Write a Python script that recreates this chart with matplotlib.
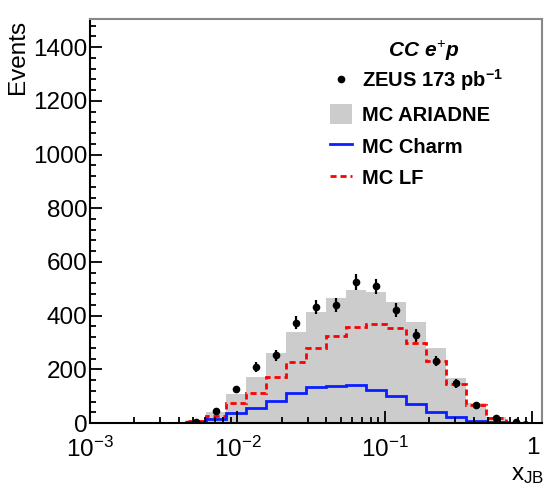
import numpy as np
import matplotlib
matplotlib.use("Agg")
import matplotlib.pyplot as plt
from matplotlib.lines import Line2D
from matplotlib.patches import Patch
from matplotlib.ticker import MultipleLocator, FixedLocator, FixedFormatter, LogLocator, NullFormatter

plt.rcParams['font.family'] = ['Liberation Sans', 'DejaVu Sans']
plt.rcParams['mathtext.fontset'] = 'custom'
plt.rcParams['mathtext.rm'] = 'Liberation Sans'
plt.rcParams['mathtext.it'] = 'Liberation Sans:bold:italic'
plt.rcParams['mathtext.bf'] = 'Liberation Sans:bold'

# binning (log10 x_JB), 17 equal bins
log_lo = -2.349
log_width = 0.1356
n_bins = 17

mc_ariadne = [10, 42, 107, 170, 260, 340, 415, 464, 495, 489, 452, 377, 278, 169, 73, 23, 5]
mc_lf = [8, 27, 73, 113, 172, 226, 280, 324, 357, 368, 353, 299, 232, 145, 67, 17, 5]
mc_charm = [3, 14, 36, 55, 83, 113, 133, 139, 140, 123, 102, 70, 42, 23, 9, 3, 1]
zeus = [5, 46, 125, 207, 253, 374, 433, 439, 525, 509, 421, 327, 231, 148, 68, 17, 4]

x_min = 1e-3
x_max = 1.16

edges = 10 ** (log_lo + log_width * np.arange(n_bins + 1))
centers = 10 ** (log_lo + log_width * (np.arange(n_bins) + 0.5))
full_edges = np.concatenate([[x_min], edges, [x_max]])

def pad(v):
    return np.concatenate([[0], v, [0]])

fig = plt.figure(figsize=(5.45, 4.92), dpi=100)
ax = fig.add_axes([0.1651, 0.1402, 0.8294, 0.8211])

ax.stairs(mc_ariadne, edges, fill=True, color='#cccccc', lw=0)
ax.stairs(pad(mc_lf), full_edges, baseline=None, color='#ff0000', lw=2,
          linestyle=(0, (2.2, 1.4)))
ax.stairs(pad(mc_charm), full_edges, baseline=None, color='#0a1eff', lw=2)
ax.errorbar(centers, zeus, yerr=1.3 * np.sqrt(zeus), fmt='o', color='black', ms=4.5,
            elinewidth=1.6, capsize=0, zorder=5)

ax.set_xscale('log')
ax.set_xlim(x_min, x_max)
ax.set_ylim(0, 1505)

ax.xaxis.set_major_locator(FixedLocator([1e-3, 1e-2, 1e-1, 1]))
ax.xaxis.set_major_formatter(FixedFormatter([r'$10^{-3}$', r'$10^{-2}$', r'$10^{-1}$', '1']))
ax.xaxis.set_minor_locator(LogLocator(base=10, subs=np.arange(2, 10), numticks=20))
ax.xaxis.set_minor_formatter(NullFormatter())
ax.yaxis.set_major_locator(MultipleLocator(200))
ax.yaxis.set_minor_locator(MultipleLocator(40))

ax.tick_params(which='both', direction='in', top=False, right=False, width=1.3, labelsize=17.5)
ax.tick_params(which='major', length=8.6)
ax.tick_params(which='minor', length=4.3)
ax.tick_params(axis='y', pad=2)
ax.tick_params(axis='x', pad=10)

for s in ['left', 'bottom']:
    ax.spines[s].set_linewidth(1.5)
for s in ['top', 'right']:
    ax.spines[s].set_linewidth(1.5)
    ax.spines[s].set_color('#888888')

fig.text(7 / 545, 0.96, 'Events', rotation=90, ha='left', va='top', fontsize=17.5)
fig.text(0.998, 0.012, r'x$_{\mathregular{JB}}$', ha='right', va='bottom', fontsize=17.5)

ax.text(0.74, 0.92, r'$CC\ e^{+}p$', transform=ax.transAxes, ha='center', va='center',
        fontsize=15)

handles = [
    Line2D([], [], marker='o', color='black', ls='none', ms=4.5),
    Patch(facecolor='#cccccc', edgecolor='none'),
    Line2D([], [], color='#0a1eff', lw=2),
    Line2D([], [], color='#ff0000', lw=2, linestyle=(0, (2.2, 1.4))),
]
labels = [r'ZEUS 173 pb$^{\mathbf{-1}}$', 'MC ARIADNE', 'MC Charm', 'MC LF']
ax.legend(handles, labels, loc='upper left', bbox_to_anchor=(0.531, 0.88), frameon=False,
          prop={'weight': 'bold', 'size': 14.5}, handlelength=1.1, handleheight=1.1,
          handletextpad=0.5, labelspacing=0.55, borderpad=0, borderaxespad=0)

fig.savefig('out.png', dpi=100)
